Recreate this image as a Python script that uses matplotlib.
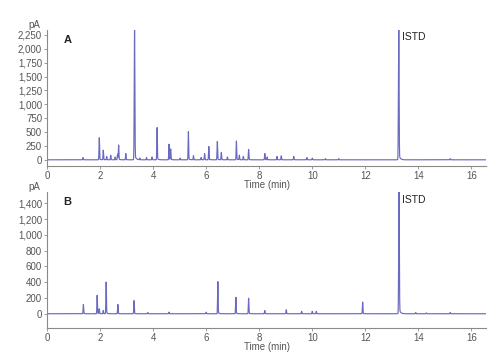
import numpy as np
import matplotlib
matplotlib.use("Agg")
import matplotlib.pyplot as plt
from matplotlib.ticker import FuncFormatter

# Chromatogram A: peak retention times (min) and heights (pA)
a_times = [1.36, 1.97, 2.12, 2.25, 2.40, 2.57, 2.66, 2.70, 2.97, 3.30, 3.50, 3.75,
           3.96, 4.15, 4.60, 4.66, 5.02, 5.33, 5.52, 5.81, 5.94, 6.10, 6.42, 6.57,
           6.80, 7.14, 7.25, 7.40, 7.60, 8.21, 8.30, 8.67, 8.83, 9.30, 9.80, 10.0,
           10.5, 11.0, 13.26, 15.2]
a_heights = [40, 390, 170, 60, 80, 50, 100, 260, 110, 2340, 30, 40,
             50, 570, 270, 190, 30, 500, 70, 40, 110, 230, 325, 130,
             50, 325, 80, 60, 180, 110, 50, 60, 70, 60, 40, 30,
             20, 20, 2340, 20]

# Chromatogram B
b_times = [1.37, 1.89, 1.97, 2.12, 2.23, 2.67, 3.28, 3.80, 4.60, 6.00, 6.44,
           7.12, 7.60, 8.21, 9.02, 9.60, 10.00, 10.15, 11.90, 13.27, 13.90,
           14.30, 15.20]
b_heights = [115, 225, 60, 40, 395, 115, 160, 15, 20, 20, 400,
             205, 190, 40, 50, 30, 30, 30, 145, 1545, 15,
             10, 15]

a_yticks = list(range(0, 2251, 250))
b_yticks = list(range(0, 1401, 200))
x_ticks = [0, 2, 4, 6, 8, 10, 12, 14, 16]

LINE = "#6a6ac0"
TXT = "#555555"
SPINE = "#8a8a8a"
FONT = ["Liberation Sans Narrow", "Liberation Sans", "DejaVu Sans"]

plt.rcParams["font.family"] = FONT

t = np.arange(0, 16.55, 0.002)


def trace(times, heights):
    y = np.zeros_like(t)
    for tc, h in zip(times, heights):
        s = 0.010 if h < 1000 else 0.012
        y += h * np.exp(-0.5 * ((t - tc) / s) ** 2)
        # small tailing
        tail = (t > tc) * h * 0.04 * np.exp(-np.clip(t - tc, 0, None) / 0.05)
        y += tail
    return y


fig = plt.figure(figsize=(5.0, 3.53), dpi=100)
axA = fig.add_axes([0.094, 0.530, 0.878, 0.385])
axB = fig.add_axes([0.094, 0.071, 0.878, 0.385])

fmt = FuncFormatter(lambda v, p: f"{int(v):,}")

for ax, times, heights, yt, ylim, lab in [
    (axA, a_times, a_heights, a_yticks, (-110, 2340), "A"),
    (axB, b_times, b_heights, b_yticks, (-180, 1545), "B"),
]:
    ax.plot(t, trace(times, heights), color=LINE, lw=0.85)
    ax.set_xlim(0, 16.55)
    ax.set_ylim(*ylim)
    ax.set_xticks(x_ticks)
    ax.set_yticks(yt)
    ax.yaxis.set_major_formatter(fmt)
    for s in ["top", "right"]:
        ax.spines[s].set_visible(False)
    for s in ["left", "bottom"]:
        ax.spines[s].set_color(SPINE)
        ax.spines[s].set_linewidth(0.8)
    ax.tick_params(axis="both", colors=SPINE, labelcolor=TXT, labelsize=7,
                   length=2, width=0.6, pad=1.5)
    ax.set_xlabel("Time (min)", fontsize=7, color=TXT, labelpad=1)
    ax.xaxis.set_label_coords(0.5, -0.10)
    ax.text(-0.015, 1.0, "pA", transform=ax.transAxes, ha="right", va="bottom",
            fontsize=7, color=TXT)
    ax.text(0.037, 0.96, lab, transform=ax.transAxes, ha="left", va="top",
            fontsize=8, fontweight="bold", color="#222222")

axA.text(13.38, 2300, "ISTD", ha="left", va="top", fontsize=7.5, color="#222222")
axB.text(13.38, 1510, "ISTD", ha="left", va="top", fontsize=7.5, color="#222222")

fig.savefig("out.png", dpi=100)
